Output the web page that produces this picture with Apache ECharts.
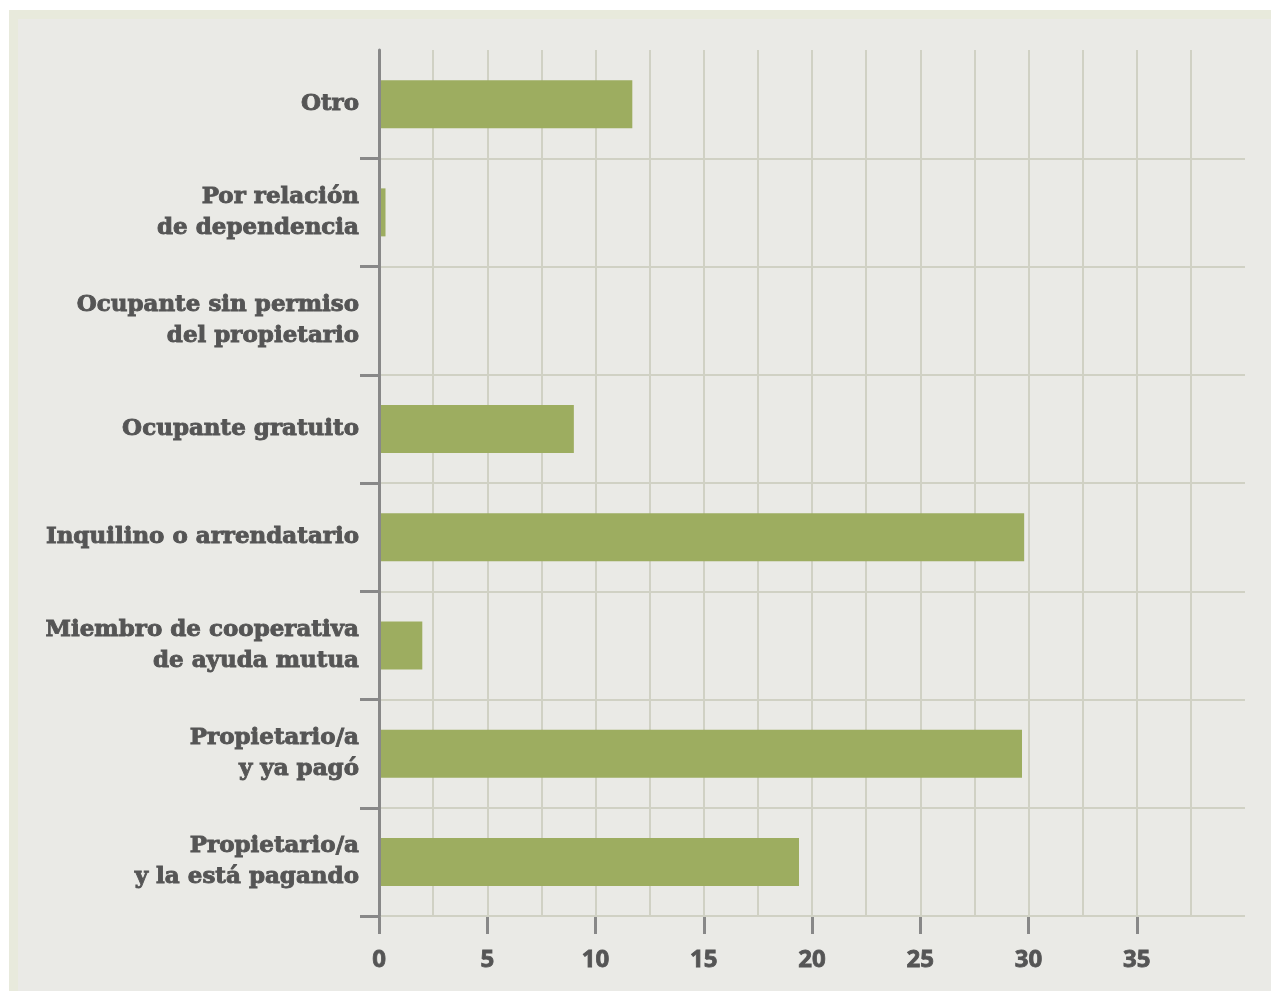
<!DOCTYPE html>
<html>
<head>
    <title>Tenencia de la vivienda</title>
    <meta charset="UTF-8">
    <script type="text/javascript" src="https://cdn.jsdelivr.net/npm/echarts@6/dist/echarts.min.js"></script>
    <style type="text/css">
        html, body {
            margin: 0;
            padding: 0;
            background: #ffffff;
            overflow: hidden;
        }
        #frame {
            position: absolute;
            left: 9px;
            top: 10px;
            width: 1280px;
            height: 1000px;
            box-sizing: border-box;
            border-left: 9px solid #e8eadc;
            border-top: 9px solid #e8eadc;
            background: #eaeae6;
        }
        #main {
            position: absolute;
            left: 0;
            top: 0;
            width: 1271px;
            height: 991px;
        }
    </style>
</head>
<body>
<div id="frame"></div>
<div id="main"></div>

<script>
// categorias, de abajo hacia arriba
var categorias = [
    'Propietario/a\ny la está pagando',
    'Propietario/a\ny ya pagó',
    'Miembro de cooperativa\nde ayuda mutua',
    'Inquilino o arrendatario',
    'Ocupante gratuito',
    'Ocupante sin permiso\ndel propietario',
    'Por relación\nde dependencia',
    'Otro'
];
var porcentajes = [19.4, 29.7, 2.0, 29.8, 9.0, 0, 0.3, 11.7];
var marcasX = [0, 5, 10, 15, 20, 25, 30, 35];
// marcas del eje vertical (limites entre categorias, sin la de arriba)
var marcasY = [0, 2, 4, 6, 8, 10, 12, 14];

var gris = '#888888';
var texto = '#555555';
var rejilla = '#d0d1c4';

var myChart = echarts.init(document.getElementById('main'));
myChart.setOption({
    backgroundColor: 'transparent',
    animation: false,
    grid: {
        left: 379,
        right: 26,
        top: 50,
        bottom: 75
    },
    xAxis: {
        type: 'value',
        min: 0,
        max: 40,
        interval: 5,
        axisLine: { show: false },
        axisTick: {
            show: true,
            customValues: marcasX,
            length: 18,
            lineStyle: { color: gris, width: 3 }
        },
        axisLabel: {
            customValues: marcasX,
            margin: 32,
            color: texto,
            fontFamily: 'Open Sans',
            fontWeight: 'bold',
            fontSize: 24,
            textBorderColor: texto,
            textBorderWidth: 0.8
        },
        splitLine: { show: true, lineStyle: { color: rejilla, width: 2 } },
        minorTick: { show: false, splitNumber: 2 },
        minorSplitLine: { show: true, lineStyle: { color: rejilla, width: 2 } }
    },
    yAxis: [{
        type: 'category',
        data: categorias,
        axisLine: { show: false },
        axisTick: { show: false },
        axisLabel: {
            margin: 20,
            color: texto,
            fontFamily: 'DejaVu Serif',
            fontWeight: 'bold',
            fontSize: 23,
            lineHeight: 31,
            align: 'right',
            textBorderColor: texto,
            textBorderWidth: 0.9
        },
        splitLine: { show: false }
    }, {
        // lineas horizontales (limites y centros) y marcas del eje
        type: 'value',
        position: 'left',
        min: 0,
        max: 16,
        interval: 1,
        axisLine: { show: true, lineStyle: { color: gris, width: 3 } },
        axisTick: {
            show: true,
            customValues: marcasY,
            length: 19,
            lineStyle: { color: gris, width: 3 }
        },
        axisLabel: { show: false },
        splitLine: { show: true, lineStyle: { color: rejilla, width: 2 } },
        z: 5
    }],
    series: [{
        name: 'Tenencia',
        type: 'bar',
        yAxisIndex: 0,
        data: porcentajes,
        barWidth: 48,
        itemStyle: { color: '#9dad60' }
    }]
});
</script>
</body>
</html>
